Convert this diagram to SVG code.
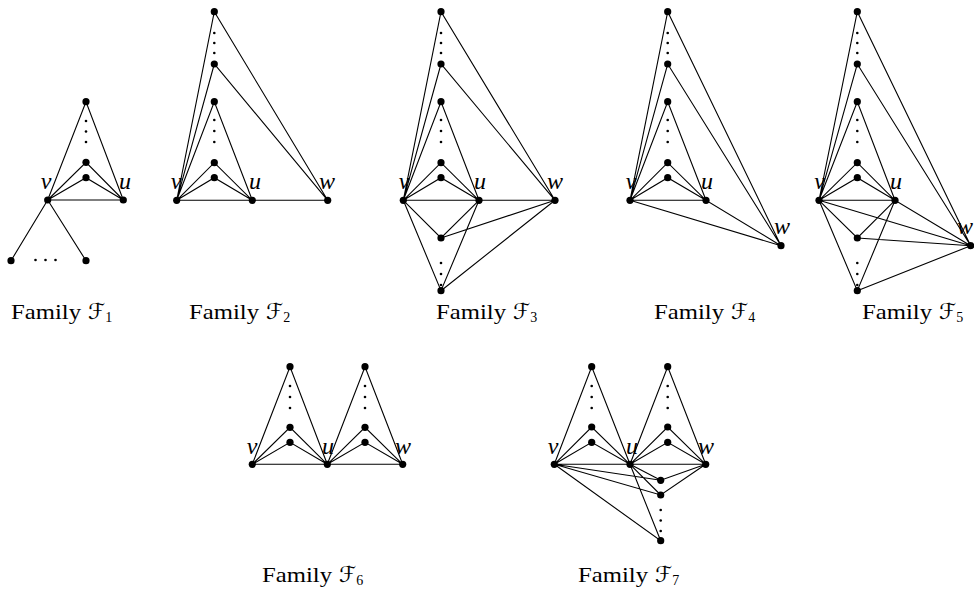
<svg xmlns="http://www.w3.org/2000/svg" width="974" height="591" viewBox="0 0 974 591">
<style>
.e{stroke:#000;stroke-width:1.1;fill:none;stroke-linecap:round}
.n{fill:#000}
.d{fill:#000}
.lb{font-family:"Liberation Serif",serif;font-style:italic;font-size:24px;text-anchor:middle;fill:#000}
.fam{font-family:"Liberation Serif",serif;font-size:21px;fill:#000}
.cal{font-family:"DejaVu Sans","Noto Sans",sans-serif;font-size:22px;fill:#000}
.sub{font-family:"Liberation Serif",serif;font-size:14px}
</style>
<defs>
<circle id="nd" r="3.6"/>
<circle id="dt" r="1.3"/>
</defs>
<rect width="974" height="591" fill="#fff"/>

<!-- Connectors -->
<g id="connectors" class="e">
<!-- F1 -->
<path d="M47.7,200L86,101.7L123.3,200M47.7,200L86,162.3L123.3,200M47.7,200L86,177.7L123.3,200M47.7,200L123.3,200M47.7,200L11,260.7M47.7,200L86,260.7"/>
<!-- F2 -->
<path d="M176.7,200.3L214.3,11.7L327.7,200.3M176.7,200.3L214.3,64L327.7,200.3M176.7,200.3L214.3,101.7L252.3,200.3M176.7,200.3L214.3,162.7L252.3,200.3M176.7,200.3L214.3,177.7L252.3,200.3M176.7,200.3L327.7,200.3"/>
<!-- F3 -->
<path d="M403.3,200.3L441,11.7L555,200.3M403.3,200.3L441,64L555,200.3M403.3,200.3L441,101.7L479,200.3M403.3,200.3L441,162.7L479,200.3M403.3,200.3L441,177.7L479,200.3M403.3,200.3L555,200.3M403.3,200.3L441,238L479,200.3M403.3,200.3L441,290.7L479,200.3M441,238L555,200.3M441,290.7L555,200.3"/>
<!-- F4 -->
<path d="M630,200.3L667.7,11.7L781,245.7M630,200.3L667.7,64L781,245.7M630,200.3L667.7,101.7L706,200.3M630,200.3L667.7,162.7L706,200.3M630,200.3L667.7,177.7L706,200.3M630,200.3L706,200.3L781,245.7M630,200.3L781,245.7"/>
<!-- F5 -->
<path d="M819,200.3L857.3,11.7L970.7,245.7M819,200.3L857.3,64L970.7,245.7M819,200.3L857.3,101.7L895,200.3M819,200.3L857.3,162.7L895,200.3M819,200.3L857.3,177.7L895,200.3M819,200.3L895,200.3L970.7,245.7M819,200.3L970.7,245.7M819,200.3L857.3,238L895,200.3M819,200.3L857.3,290.7L895,200.3M857.3,238L970.7,245.7M857.3,290.7L970.7,245.7"/>
<!-- F6 -->
<path d="M252.3,464.3L290,366.7L327.3,464.3M252.3,464.3L290,427.3L327.3,464.3M252.3,464.3L290,442.3L327.3,464.3M327.3,464.3L365,366.7L402.7,464.3M327.3,464.3L365,427.3L402.7,464.3M327.3,464.3L365,442.3L402.7,464.3M252.3,464.3L402.7,464.3"/>
<!-- F7 -->
<path d="M554.3,464.3L591.7,366.7L630,464.3M554.3,464.3L591.7,427L630,464.3M554.3,464.3L591.7,442.3L630,464.3M630,464.3L667.7,366.7L705.7,464.3M630,464.3L667.7,427L705.7,464.3M630,464.3L667.7,442.3L705.7,464.3M554.3,464.3L705.7,464.3M554.3,464.3L660.7,480.3L705.7,464.3M554.3,464.3L660.7,495L705.7,464.3M554.3,464.3L660.7,540.7L630,464.3M630,464.3L660.7,480.3M630,464.3L660.7,495"/>
</g>

<!-- Ellipsis dots -->
<g id="ellipses" class="d">
<use href="#dt" x="86" y="121"/><use href="#dt" x="86" y="131.5"/><use href="#dt" x="86" y="142"/>
<use href="#dt" x="35.5" y="260"/><use href="#dt" x="45.5" y="260"/><use href="#dt" x="55.5" y="260"/>
<use href="#dt" x="214.3" y="33"/><use href="#dt" x="214.3" y="43"/><use href="#dt" x="214.3" y="53"/>
<use href="#dt" x="214.3" y="120"/><use href="#dt" x="214.3" y="131"/><use href="#dt" x="214.3" y="142"/>
<use href="#dt" x="441" y="33"/><use href="#dt" x="441" y="43"/><use href="#dt" x="441" y="53"/>
<use href="#dt" x="441" y="120"/><use href="#dt" x="441" y="131"/><use href="#dt" x="441" y="142"/>
<use href="#dt" x="441" y="263"/><use href="#dt" x="441" y="274"/><use href="#dt" x="441" y="285"/>
<use href="#dt" x="667.7" y="33"/><use href="#dt" x="667.7" y="43"/><use href="#dt" x="667.7" y="53"/>
<use href="#dt" x="667.7" y="120"/><use href="#dt" x="667.7" y="131"/><use href="#dt" x="667.7" y="142"/>
<use href="#dt" x="857.3" y="33"/><use href="#dt" x="857.3" y="43"/><use href="#dt" x="857.3" y="53"/>
<use href="#dt" x="857.3" y="120"/><use href="#dt" x="857.3" y="131"/><use href="#dt" x="857.3" y="142"/>
<use href="#dt" x="857.3" y="263"/><use href="#dt" x="857.3" y="274"/><use href="#dt" x="857.3" y="285"/>
<use href="#dt" x="290" y="386"/><use href="#dt" x="290" y="397"/><use href="#dt" x="290" y="408"/>
<use href="#dt" x="365" y="386"/><use href="#dt" x="365" y="397"/><use href="#dt" x="365" y="408"/>
<use href="#dt" x="591.7" y="386"/><use href="#dt" x="591.7" y="397"/><use href="#dt" x="591.7" y="408"/>
<use href="#dt" x="667.7" y="386"/><use href="#dt" x="667.7" y="397"/><use href="#dt" x="667.7" y="408"/>
<use href="#dt" x="660.7" y="510"/><use href="#dt" x="660.7" y="520.5"/><use href="#dt" x="660.7" y="531"/>
</g>

<!-- Family 1 -->
<g id="f1" class="n">
<g id="f1-t"><use href="#nd" x="86" y="101.7"/></g>
<g id="f1-a"><use href="#nd" x="86" y="162.3"/></g>
<g id="f1-b"><use href="#nd" x="86" y="177.7"/></g>
<g id="f1-v"><use href="#nd" x="47.7" y="200"/><text class="lb" x="46" y="189">v</text></g>
<g id="f1-u"><use href="#nd" x="123.3" y="200"/><text class="lb" x="125" y="189">u</text></g>
<g id="f1-l"><use href="#nd" x="11" y="260.7"/></g>
<g id="f1-r"><use href="#nd" x="86" y="260.7"/></g>
</g>
<!-- Family 2 -->
<g id="f2" class="n">
<g id="f2-t"><use href="#nd" x="214.3" y="11.7"/></g>
<g id="f2-s"><use href="#nd" x="214.3" y="64"/></g>
<g id="f2-p"><use href="#nd" x="214.3" y="101.7"/></g>
<g id="f2-a"><use href="#nd" x="214.3" y="162.7"/></g>
<g id="f2-b"><use href="#nd" x="214.3" y="177.7"/></g>
<g id="f2-v"><use href="#nd" x="176.7" y="200.3"/><text class="lb" x="176" y="189">v</text></g>
<g id="f2-u"><use href="#nd" x="252.3" y="200.3"/><text class="lb" x="255" y="189">u</text></g>
<g id="f2-w"><use href="#nd" x="327.7" y="200.3"/><text class="lb" x="327" y="189">w</text></g>
</g>
<!-- Family 3 -->
<g id="f3" class="n">
<g id="f3-t"><use href="#nd" x="441" y="11.7"/></g>
<g id="f3-s"><use href="#nd" x="441" y="64"/></g>
<g id="f3-p"><use href="#nd" x="441" y="101.7"/></g>
<g id="f3-a"><use href="#nd" x="441" y="162.7"/></g>
<g id="f3-b"><use href="#nd" x="441" y="177.7"/></g>
<g id="f3-v"><use href="#nd" x="403.3" y="200.3"/><text class="lb" x="404" y="189">v</text></g>
<g id="f3-u"><use href="#nd" x="479" y="200.3"/><text class="lb" x="480" y="189">u</text></g>
<g id="f3-w"><use href="#nd" x="555" y="200.3"/><text class="lb" x="555" y="189">w</text></g>
<g id="f3-c"><use href="#nd" x="441" y="238"/></g>
<g id="f3-d"><use href="#nd" x="441" y="290.7"/></g>
</g>
<!-- Family 4 -->
<g id="f4" class="n">
<g id="f4-t"><use href="#nd" x="667.7" y="11.7"/></g>
<g id="f4-s"><use href="#nd" x="667.7" y="64"/></g>
<g id="f4-p"><use href="#nd" x="667.7" y="101.7"/></g>
<g id="f4-a"><use href="#nd" x="667.7" y="162.7"/></g>
<g id="f4-b"><use href="#nd" x="667.7" y="177.7"/></g>
<g id="f4-v"><use href="#nd" x="630" y="200.3"/><text class="lb" x="631" y="189">v</text></g>
<g id="f4-u"><use href="#nd" x="706" y="200.3"/><text class="lb" x="707" y="189">u</text></g>
<g id="f4-w"><use href="#nd" x="781" y="245.7"/><text class="lb" x="782" y="234">w</text></g>
</g>
<!-- Family 5 -->
<g id="f5" class="n">
<g id="f5-t"><use href="#nd" x="857.3" y="11.7"/></g>
<g id="f5-s"><use href="#nd" x="857.3" y="64"/></g>
<g id="f5-p"><use href="#nd" x="857.3" y="101.7"/></g>
<g id="f5-a"><use href="#nd" x="857.3" y="162.7"/></g>
<g id="f5-b"><use href="#nd" x="857.3" y="177.7"/></g>
<g id="f5-v"><use href="#nd" x="819" y="200.3"/><text class="lb" x="819.5" y="189">v</text></g>
<g id="f5-u"><use href="#nd" x="895" y="200.3"/><text class="lb" x="896" y="189">u</text></g>
<g id="f5-w"><use href="#nd" x="970.7" y="245.7"/><text class="lb" x="973" y="234" style="text-anchor:end">w</text></g>
<g id="f5-c"><use href="#nd" x="857.3" y="238"/></g>
<g id="f5-d"><use href="#nd" x="857.3" y="290.7"/></g>
</g>
<!-- Family 6 -->
<g id="f6" class="n">
<g id="f6-t1"><use href="#nd" x="290" y="366.7"/></g>
<g id="f6-a1"><use href="#nd" x="290" y="427.3"/></g>
<g id="f6-b1"><use href="#nd" x="290" y="442.3"/></g>
<g id="f6-v"><use href="#nd" x="252.3" y="464.3"/><text class="lb" x="252" y="454">v</text></g>
<g id="f6-u"><use href="#nd" x="327.3" y="464.3"/><text class="lb" x="328" y="454">u</text></g>
<g id="f6-t2"><use href="#nd" x="365" y="366.7"/></g>
<g id="f6-a2"><use href="#nd" x="365" y="427.3"/></g>
<g id="f6-b2"><use href="#nd" x="365" y="442.3"/></g>
<g id="f6-w"><use href="#nd" x="402.7" y="464.3"/><text class="lb" x="403" y="454">w</text></g>
</g>
<!-- Family 7 -->
<g id="f7" class="n">
<g id="f7-t1"><use href="#nd" x="591.7" y="366.7"/></g>
<g id="f7-a1"><use href="#nd" x="591.7" y="427"/></g>
<g id="f7-b1"><use href="#nd" x="591.7" y="442.3"/></g>
<g id="f7-v"><use href="#nd" x="554.3" y="464.3"/><text class="lb" x="553" y="454">v</text></g>
<g id="f7-u"><use href="#nd" x="630" y="464.3"/><text class="lb" x="632" y="454">u</text></g>
<g id="f7-t2"><use href="#nd" x="667.7" y="366.7"/></g>
<g id="f7-a2"><use href="#nd" x="667.7" y="427"/></g>
<g id="f7-b2"><use href="#nd" x="667.7" y="442.3"/></g>
<g id="f7-w"><use href="#nd" x="705.7" y="464.3"/><text class="lb" x="706" y="454">w</text></g>
<g id="f7-c1"><use href="#nd" x="660.7" y="480.3"/></g>
<g id="f7-c2"><use href="#nd" x="660.7" y="495"/></g>
<g id="f7-c3"><use href="#nd" x="660.7" y="540.7"/></g>
</g>

<!-- Captions -->
<g id="captions">
<g id="cap1"><text class="fam" x="11" y="319" textLength="70" lengthAdjust="spacingAndGlyphs">Family</text><text class="cal" x="88" y="319">ℱ<tspan class="sub" dy="3">1</tspan></text></g>
<g id="cap2"><text class="fam" x="189" y="319" textLength="70" lengthAdjust="spacingAndGlyphs">Family</text><text class="cal" x="266" y="319">ℱ<tspan class="sub" dy="3">2</tspan></text></g>
<g id="cap3"><text class="fam" x="436" y="319" textLength="70" lengthAdjust="spacingAndGlyphs">Family</text><text class="cal" x="513" y="319">ℱ<tspan class="sub" dy="3">3</tspan></text></g>
<g id="cap4"><text class="fam" x="654" y="319" textLength="70" lengthAdjust="spacingAndGlyphs">Family</text><text class="cal" x="731" y="319">ℱ<tspan class="sub" dy="3">4</tspan></text></g>
<g id="cap5"><text class="fam" x="862" y="319" textLength="70" lengthAdjust="spacingAndGlyphs">Family</text><text class="cal" x="939" y="319">ℱ<tspan class="sub" dy="3">5</tspan></text></g>
<g id="cap6"><text class="fam" x="262" y="582" textLength="70" lengthAdjust="spacingAndGlyphs">Family</text><text class="cal" x="339" y="582">ℱ<tspan class="sub" dy="3">6</tspan></text></g>
<g id="cap7"><text class="fam" x="578" y="582" textLength="70" lengthAdjust="spacingAndGlyphs">Family</text><text class="cal" x="655" y="582">ℱ<tspan class="sub" dy="3">7</tspan></text></g>
</g>
</svg>
